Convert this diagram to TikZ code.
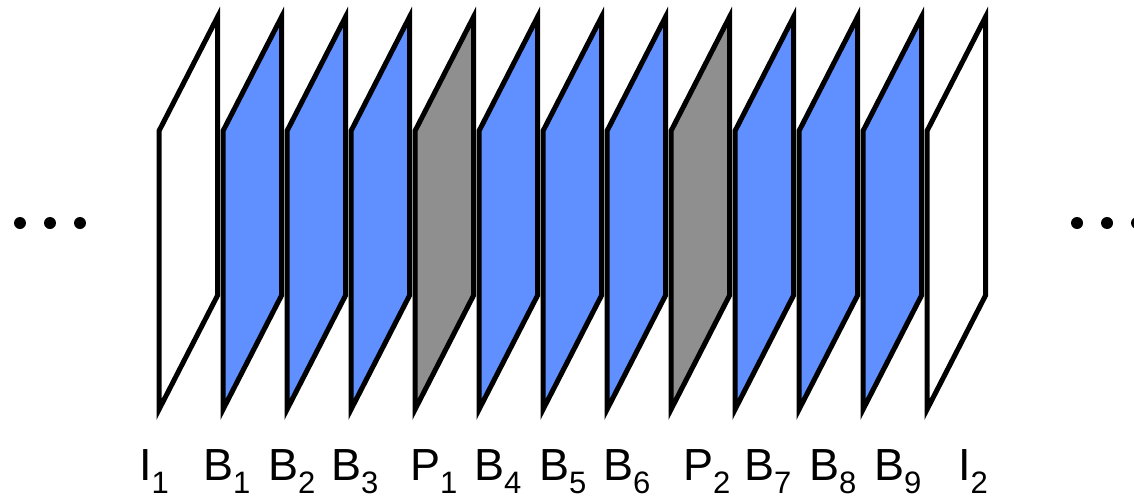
\documentclass[tikz,border=0pt]{standalone}
\usepackage{fontspec}
\setmainfont{Liberation Sans}
\definecolor{frameblue}{RGB}{96,143,255}
\definecolor{framegray}{RGB}{143,143,143}
\newcommand\framelbl[2]{{\fontsize{45}{45}\selectfont #1}\raisebox{-13pt}{\fontsize{31}{31}\selectfont #2}}
\tikzset{
  frame/.style={draw=black, line width=5pt, line join=miter, miter limit=10},
  lbl/.style={anchor=base west, inner sep=0pt, outer sep=0pt},
  dot/.style={fill=black}
}
\begin{document}
\begin{tikzpicture}[x=1pt,y=-1pt]
\useasboundingbox (0,0) rectangle (1134,495);
% dots
\foreach \cx in {20,50,80,1077,1107,1137}{
  \fill[dot] (\cx,223) circle (6);
}
% frames
\foreach \i/\col in {0/white,1/frameblue,2/frameblue,3/frameblue,4/framegray,5/frameblue,6/frameblue,7/frameblue,8/framegray,9/frameblue,10/frameblue,11/frameblue,12/white}{
  \pgfmathsetmacro{\xl}{159+64*\i}
  \pgfmathsetmacro{\xr}{\xl+58.5}
  \draw[frame, fill=\col] (\xl,409.5) -- (\xl,131) -- (\xr,17) -- (\xr,295.5) -- cycle;
}
% labels
\node[lbl] (lI1) at (139,480) {\framelbl{I}{1}};
\node[lbl] (lB1) at (203,480) {\framelbl{B}{1}};
\node[lbl] (lB2) at (268,480) {\framelbl{B}{2}};
\node[lbl] (lB3) at (331,480) {\framelbl{B}{3}};
\node[lbl] (lP1) at (410,480) {\framelbl{P}{1}};
\node[lbl] (lB4) at (474,480) {\framelbl{B}{4}};
\node[lbl] (lB5) at (539,480) {\framelbl{B}{5}};
\node[lbl] (lB6) at (603,480) {\framelbl{B}{6}};
\node[lbl] (lP2) at (683,480) {\framelbl{P}{2}};
\node[lbl] (lB7) at (744,480) {\framelbl{B}{7}};
\node[lbl] (lB8) at (809,480) {\framelbl{B}{8}};
\node[lbl] (lB9) at (874,480) {\framelbl{B}{9}};
\node[lbl] (lI2) at (958,480) {\framelbl{I}{2}};
\end{tikzpicture}
\end{document}
